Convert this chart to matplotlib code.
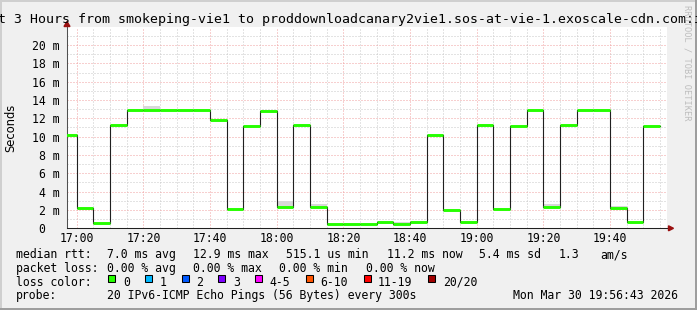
import matplotlib
matplotlib.use("Agg")
import matplotlib.pyplot as plt
import matplotlib.dates as mdates
from matplotlib.ticker import FixedLocator, FuncFormatter
from matplotlib.patches import Polygon, Rectangle
from matplotlib.lines import Line2D
from datetime import datetime, timedelta

# ---------------- data ----------------
bucket_start = datetime(2026, 3, 30, 16, 55)
bucket_minutes = 5
median_ms = [10.2, 2.2, 0.6, 11.3, 12.9, 12.9, 12.9, 12.9, 12.9, 11.8,
             2.1, 11.2, 12.8, 2.3, 11.3, 2.3, 0.5, 0.5, 0.5, 0.7,
             0.5, 0.7, 10.2, 2.0, 0.7, 11.3, 2.1, 11.2, 12.9, 2.3,
             11.3, 12.9, 12.9, 2.2, 0.7, 11.2]
smoke_hi_ms = [10.2, 2.2, 0.6, 11.3, 12.9, 13.3, 12.9, 12.9, 12.9, 11.8,
               2.1, 11.2, 12.8, 3.0, 11.3, 2.6, 0.5, 0.5, 0.5, 0.7,
               0.7, 0.7, 10.2, 2.0, 0.7, 11.3, 2.1, 11.2, 12.9, 2.6,
               11.3, 12.9, 12.9, 2.4, 0.7, 11.2]
view_start = datetime(2026, 3, 30, 16, 57)
view_end = datetime(2026, 3, 30, 19, 57)

title = "Last 3 Hours from smokeping-vie1 to proddownloadcanary2vie1.sos-at-vie-1.exoscale-cdn.com:i"
y_label = "Seconds"
watermark = "RRDTOOL / TOBI OETIKER"

legend_rtt = [("median rtt:", 16), ("7.0 ms avg", 107.3), ("12.9 ms max", 193.3),
              ("515.1 us min", 286), ("11.2 ms now", 386.7), ("5.4 ms sd", 479.3),
              ("1.3", 558.7), ("am/s", 600)]
legend_loss = [("packet loss:", 16), ("0.00 % avg", 107.3), ("0.00 % max", 193.3),
               ("0.00 % min", 279.3), ("0.00 % now", 366)]
loss_labels = ["0", "1", "2", "3", "4-5", "6-10", "11-19", "20/20"]
loss_colors = ["#26ff00", "#00b8ff", "#0059ff", "#7e00ff", "#ff00ff", "#ff5500", "#ff0000", "#a10000"]
probe_text = "20 IPv6-ICMP Echo Pings (56 Bytes) every 300s"
date_text = "Mon Mar 30 19:56:43 2026"

# ---------------- layout ----------------
W, H, DPI = 697, 310, 100
MONO = "DejaVu Sans Mono"
FS = 8.3


def fx(x):
    return x / W


def fy(y):
    return 1 - y / H


fig = plt.figure(figsize=(W / DPI, H / DPI), dpi=DPI, facecolor="#f0f0f0")
L, R, T, B = 66.7, 666.7, 26.7, 228.3
ax = fig.add_axes([fx(L), fy(B), (R - L) / W, (B - T) / H])
ax.set_facecolor("white")

starts = [bucket_start + timedelta(minutes=bucket_minutes * i) for i in range(len(median_ms))]
ends = [s + timedelta(minutes=bucket_minutes) for s in starts]
edges = starts + [ends[-1]]

# smoke
ax.fill_between(edges, median_ms + [median_ms[-1]], smoke_hi_ms + [smoke_hi_ms[-1]],
                step="post", color="#d8d8d8", linewidth=0, zorder=2)
# dark connecting line
ax.step(edges, median_ms + [median_ms[-1]], where="post", color="#202020",
        linewidth=0.8, zorder=3)
# loss-colour median segments
ax.hlines(median_ms, starts, ends, colors=loss_colors[0], linewidth=2.1, zorder=4)

ax.set_xlim(view_start, view_end)
ax.set_ylim(0, 22)

ax.xaxis.set_major_locator(mdates.MinuteLocator(byminute=[0, 20, 40]))
ax.xaxis.set_minor_locator(mdates.MinuteLocator(byminute=list(range(0, 60, 5))))
ax.xaxis.set_major_formatter(mdates.DateFormatter("%H:%M"))
ax.yaxis.set_major_locator(FixedLocator(list(range(0, 21, 2))))
ax.yaxis.set_minor_locator(FixedLocator(list(range(1, 22))))
ax.yaxis.set_major_formatter(FuncFormatter(lambda v, p: "0\u00a0\u00a0" if v == 0 else f"{v:.0f} m"))

ax.grid(which="major", color="#f0a0a0", linestyle=(0, (1, 2)), linewidth=0.72, zorder=1)
ax.grid(which="minor", color="#c8c8c8", linestyle=(0, (1, 2)), linewidth=0.72, zorder=1)
ax.set_axisbelow(True)

ax.tick_params(which="both", length=0)
ax.tick_params(axis="y", pad=5.3, labelsize=FS)
ax.tick_params(axis="x", pad=3.0, labelsize=FS)
for lab in ax.get_xticklabels() + ax.get_yticklabels():
    lab.set_fontfamily(MONO)

for s in ["top", "right"]:
    ax.spines[s].set_visible(False)
ax.spines["left"].set_color("#505050")
ax.spines["bottom"].set_color("#202020")
ax.spines["left"].set_linewidth(0.75)
ax.spines["bottom"].set_linewidth(0.75)

# arrows
arrow_c = "#9a1010"
fig.add_artist(Polygon([(fx(64), fy(26.5)), (fx(70), fy(26.5)), (fx(67), fy(21.5))],
                       closed=True, color=arrow_c, transform=fig.transFigure))
fig.add_artist(Polygon([(fx(668.5), fy(225.8)), (fx(668.5), fy(230.8)), (fx(673.5), fy(228.3))],
                       closed=True, color=arrow_c, transform=fig.transFigure))

# title
fig.text(fx(-26.5), fy(23.5), title, ha="left", va="baseline", fontsize=9.5,
         family=MONO, color="black")
# y label
fig.text(fx(11), fy(128), y_label, rotation=90, ha="center", va="center",
         fontsize=FS, family="DejaVu Sans")
# watermark
fig.text(fx(687), fy(5), watermark, rotation=270, ha="center", va="top",
         fontsize=6.2, family=MONO, color="#bdbdbd")

# legend
rows_baseline = [258.3, 271.7, 285.5, 299.0]
for txt, x in legend_rtt:
    fig.text(fx(x), fy(rows_baseline[0]), txt, ha="left", va="baseline", fontsize=FS, family=MONO)
for txt, x in legend_loss:
    fig.text(fx(x), fy(rows_baseline[1]), txt, ha="left", va="baseline", fontsize=FS, family=MONO)
fig.text(fx(16), fy(rows_baseline[2]), "loss color:", ha="left", va="baseline", fontsize=FS, family=MONO)
bx = 108.3
for lab, col in zip(loss_labels, loss_colors):
    fig.add_artist(Rectangle((fx(bx), fy(282.3)), 7 / W, 7 / H, facecolor=col,
                             edgecolor="black", linewidth=0.75, transform=fig.transFigure))
    fig.text(fx(bx + 14.5), fy(rows_baseline[2]), lab, ha="left", va="baseline",
             fontsize=FS, family=MONO)
    bx += 29.7 + 7 * len(lab)
fig.text(fx(16), fy(rows_baseline[3]), "probe:", ha="left", va="baseline", fontsize=FS, family=MONO)
fig.text(fx(107.3), fy(rows_baseline[3]), probe_text, ha="left", va="baseline", fontsize=FS, family=MONO)
fig.text(fx(513.3), fy(rows_baseline[3]), date_text, ha="left", va="baseline", fontsize=FS, family=MONO)

# 3D frame
def frame_line(x0, y0, x1, y1, c, lw):
    fig.add_artist(Line2D([fx(x0), fx(x1)], [fy(y0), fy(y1)], color=c, linewidth=lw,
                          transform=fig.transFigure, solid_capstyle="butt"))

frame_line(0, 1, 697, 1, "#cfcfcf", 1.44)
frame_line(1, 0, 1, 310, "#cfcfcf", 1.44)
frame_line(0, 309, 697, 309, "#9e9e9e", 1.44)
frame_line(696, 0, 696, 310, "#9e9e9e", 1.44)

fig.savefig("out.png", dpi=DPI, facecolor=fig.get_facecolor())
